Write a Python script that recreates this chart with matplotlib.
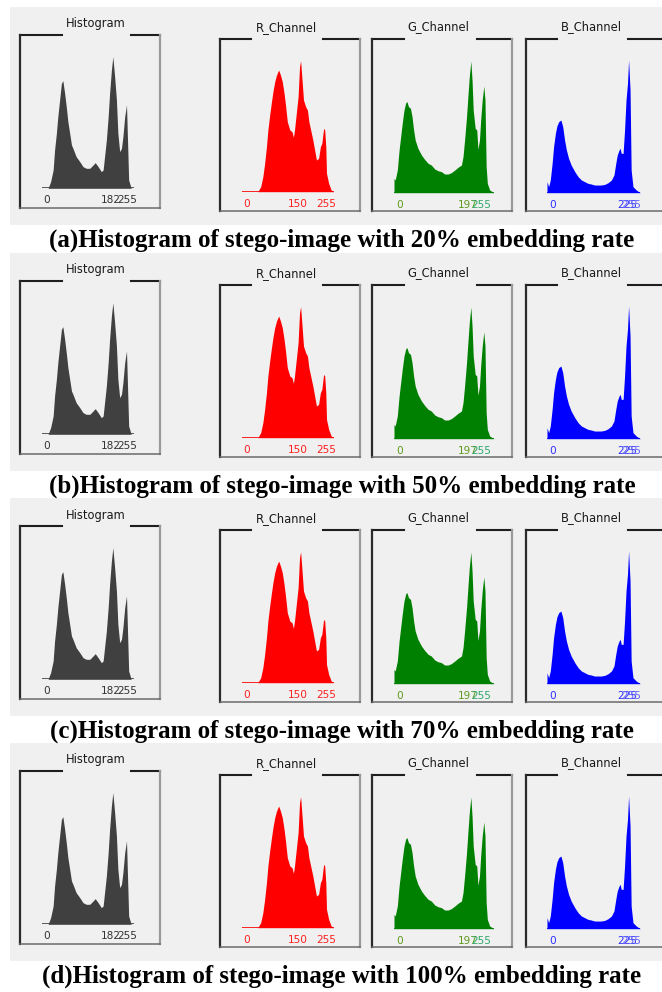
import matplotlib
matplotlib.use('Agg')
import matplotlib.pyplot as plt
from matplotlib.patches import Rectangle
from matplotlib.lines import Line2D

W, H = 662, 992

# ---------------- data ----------------
gray_levels = [0, 17, 24, 31, 35, 40, 44, 49, 54, 58, 63, 68, 72, 77, 82, 86, 95, 105, 114, 123,
               133, 142, 148, 156, 165, 170, 174, 179, 184, 188, 193, 197, 202, 207, 211, 216,
               221, 225, 230, 235, 237, 241, 248, 255]
gray_counts = [0, 0, 20, 55, 115, 165, 215, 265, 315, 323, 285, 240, 200, 165, 130, 120, 95, 80,
               65, 60, 60, 70, 77, 65, 50, 55, 95, 145, 215, 285, 355, 395, 335, 265, 165, 110,
               120, 155, 215, 250, 175, 25, 0, 0]

red_levels = [0, 44, 52, 58, 63, 68, 72, 77, 82, 86, 91, 96, 102, 107, 112, 117, 121, 126, 133,
              139, 143, 146, 151, 156, 160, 163, 167, 171, 177, 182, 186, 191, 197, 202, 207,
              213, 218, 222, 227, 230, 233, 235, 241, 248, 255]
red_counts = [0, 0, 15, 45, 85, 135, 185, 230, 270, 300, 330, 350, 365, 350, 330, 295, 260, 210,
              185, 180, 163, 185, 235, 285, 375, 393, 335, 275, 255, 245, 210, 185, 155, 125, 95,
              100, 135, 145, 190, 185, 135, 55, 25, 5, 0]

green_levels = [0, 0, 3, 8.5, 13, 17, 21, 25.5, 30, 33, 37, 42, 46, 50, 54, 61, 70, 78, 87, 95,
                104, 112, 121, 129, 138, 146, 155, 163, 172, 176, 180, 185, 189, 192, 196, 199,
                202, 207, 211, 214, 218, 221, 225, 229, 232, 235, 238, 244, 255]
green_counts = [0, 43, 38, 68, 128, 168, 208, 248, 270, 273, 258, 253, 228, 188, 158, 133, 113,
                100, 88, 83, 71, 66, 63, 56, 56, 60, 68, 76, 83, 108, 158, 228, 298, 348, 395,
                338, 248, 193, 188, 130, 158, 218, 278, 320, 278, 78, 28, 8, 0]

blue_levels = [0, 0, 4.5, 9, 14, 18, 23, 27, 32, 38, 43, 48, 53, 59, 66, 76, 85, 94, 103, 112,
               121, 130, 139, 148, 158, 167, 176, 183, 188, 192, 197, 200, 203, 208, 212, 216,
               220, 223, 227, 230, 235, 244, 255]
blue_counts = [0, 33, 18, 38, 88, 138, 178, 200, 213, 218, 198, 158, 128, 103, 83, 63, 48, 38,
               33, 28, 26, 23, 23, 23, 25, 30, 38, 53, 88, 113, 128, 133, 118, 118, 188, 278,
               328, 398, 308, 68, 18, 8, 0]

panel_titles = ["Histogram", "R_Channel", "G_Channel", "B_Channel"]
tick_texts = [["0", "182", "255"], ["0", "150", "255"], ["0", "197", "255"], ["0", "225", "255"]]
tick_pos = [[14, 192, 236], [14, 156, 234], [15, 189, 222], [16, 219, 230]]
captions = ["(a)Histogram of stego-image with 20% embedding rate",
            "(b)Histogram of stego-image with 50% embedding rate",
            "(c)Histogram of stego-image with 70% embedding rate",
            "(d)Histogram of stego-image with 100% embedding rate"]

series = [(gray_levels, gray_counts), (red_levels, red_counts),
          (green_levels, green_counts), (blue_levels, blue_counts)]

# ---------------- layout / style ----------------
fill_colors = ['#404040', '#ff0000', '#008000', '#0000ff']
tick_colors = [['#333333'] * 3, ['#ff2020'] * 3, ['#5f9a1f', '#5f9a1f', '#2fa86a'],
               ['#3030ff', '#3030ff', '#6060ff']]
# box: left, top, right, bottom, gap_l, gap_r, title_x, title_y, x0, x1, base, top
boxes = [
    (20, 35, 160, 208, 62, 131, 96, 24, 42, 133.7, 188.3, 56.7),
    (220, 39, 360, 211, 251, 323, 286, 28, 242, 333.7, 191.7, 60.7),
    (372, 39, 512, 211, 404, 477, 438, 27, 394, 494, 192.7, 61),
    (526, 39, 720, 211, 557, 628, 591, 27, 547, 640.3, 192.7, 60),
]
row_dy = [0, 246, 491, 736]

fig = plt.figure(figsize=(W / 100, H / 100), dpi=100)
fig.patch.set_facecolor('white')
bg = fig.add_axes([0, 0, 1, 1])
bg.set_xlim(0, W)
bg.set_ylim(H, 0)
bg.axis('off')

for r, dy in enumerate(row_dy):
    bg.add_patch(Rectangle((10, 7 + dy), W - 10, 218, facecolor='#f0f0f0', edgecolor='none'))
    for i, b in enumerate(boxes):
        L, T, R, B, gl, gr, tx, ty, x0, x1, base, top = b
        T += dy; B += dy
        # top border (with gap for title)
        bg.add_line(Line2D([L, gl], [T, T], color='#1e1e1e', lw=1.5))
        bg.add_line(Line2D([gr, R], [T, T], color='#1e1e1e', lw=1.5))
        bg.add_line(Line2D([L, L], [T, B], color='#2a2a2a', lw=1.6))
        bg.add_line(Line2D([R, R], [T, B], color='#9a9a9a', lw=1.6))
        bg.add_line(Line2D([L, R], [B, B], color='#6a6a6a', lw=1.1))
        bg.text(tx, ty + dy, panel_titles[i], fontsize=8.3, family='DejaVu Sans',
                color='#1a1a1a', ha='center', va='center')

        levels, counts = series[i]
        ax = fig.add_axes([x0 / W, 1 - (base + dy) / H, (x1 - x0) / W, (base - top) / H])
        ax.patch.set_visible(False)
        ax.set_xlim(0, 255)
        ax.set_ylim(0, max(counts))
        ax.axis('off')
        ax.fill_between(levels, counts, 0, color=fill_colors[i], lw=0)
        ax.plot([0, 255], [0, 0], color=fill_colors[i], lw=1.2, solid_capstyle='butt')
        for t, p, c in zip(tick_texts[i], tick_pos[i], tick_colors[i]):
            ax.annotate(t, xy=(p, 0), xycoords=('data', 'axes fraction'),
                        xytext=(0, -12), textcoords='offset pixels',
                        ha='center', va='center', fontsize=7.6, color=c,
                        family='DejaVu Sans', annotation_clip=False)

    bg.text(342, 240 + dy, captions[r], fontsize=18, fontweight='bold',
            family='Liberation Serif', ha='center', va='center', color='black')

fig.savefig('out.png', dpi=100, facecolor='white')
